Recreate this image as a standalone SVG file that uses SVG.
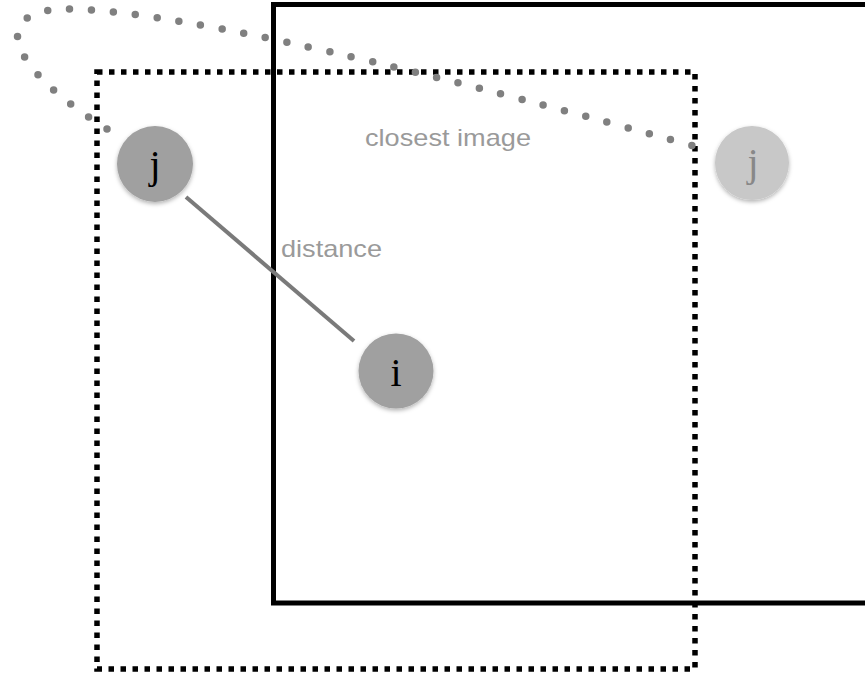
<svg xmlns="http://www.w3.org/2000/svg" width="865" height="680" viewBox="0 0 865 680">
<style>
.lbl{font-family:"Liberation Sans",Arial,sans-serif;font-size:24px;fill:#9a9a9a}
.nt{font-family:"Liberation Serif","Times New Roman",serif;font-size:40px;text-anchor:middle}
</style>
<defs>
<filter id="sh" x="-30%" y="-30%" width="160%" height="160%">
<feDropShadow dx="0" dy="2" stdDeviation="2" flood-color="#000" flood-opacity="0.3"/>
</filter>
</defs>
<rect width="865" height="680" fill="#fff"/>
<g id="cell-solid">
<rect x="273.5" y="4.5" width="600" height="598.5" fill="none" stroke="#000" stroke-width="5"/>
</g>
<g id="cell-dotted">
<rect x="97" y="72" width="598" height="597" fill="none" stroke="#000" stroke-width="5.5" stroke-dasharray="5.5 6.5"/>
</g>
<g id="connectors">
<path d="M107,129 C5,65 -10,12 63,9 Q201,8 697,147" fill="none" stroke="#808080" stroke-width="7.5" stroke-linecap="round" stroke-dasharray="0 22"/>
<line x1="186" y1="197" x2="354" y2="341" stroke="#7a7a7a" stroke-width="4"/>
</g>
<g id="label-closest">
<text class="lbl" x="365" y="146" textLength="166" lengthAdjust="spacingAndGlyphs">closest image</text>
</g>
<g id="label-distance">
<text class="lbl" x="281" y="257" textLength="101" lengthAdjust="spacingAndGlyphs">distance</text>
</g>
<g id="node-j">
<circle cx="155" cy="164" r="38" fill="#a0a0a0" filter="url(#sh)"/>
<text class="nt" x="155" y="178" fill="#000">j</text>
</g>
<g id="node-j-image">
<circle cx="752" cy="163" r="37" fill="#c8c8c8" filter="url(#sh)"/>
<text class="nt" x="753" y="176" fill="#888">j</text>
</g>
<g id="node-i">
<circle cx="396" cy="371" r="37.5" fill="#a0a0a0" filter="url(#sh)"/>
<text class="nt" x="396" y="386" fill="#000">i</text>
</g>
</svg>
